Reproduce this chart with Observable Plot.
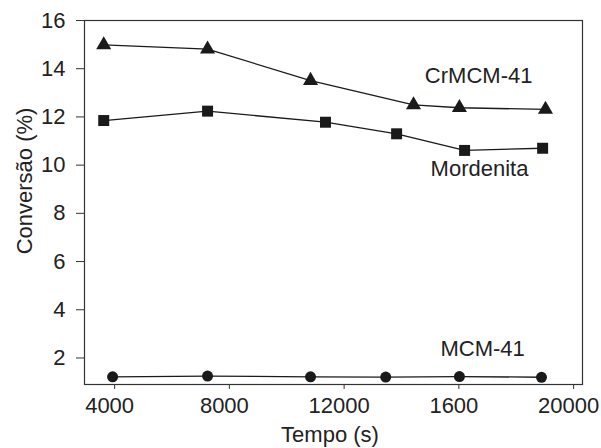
<!DOCTYPE html>
<html>
<head>
<meta charset="utf-8">
<script src="https://cdn.jsdelivr.net/npm/d3@7"></script>
<script src="https://cdn.jsdelivr.net/npm/@observablehq/plot@0.6"></script>
<style>
  html, body { margin: 0; padding: 0; background: #fff; }
  #chart svg { display: block; }
</style>
</head>
<body>
<div id="chart"></div>
<script>
// ---- data ----
const crmcmTime = [3620, 7240, 10830, 14420, 16020, 19020];
const crmcmConv = [14.99, 14.81, 13.51, 12.50, 12.38, 12.31];

const mordTime = [3620, 7240, 11350, 13830, 16200, 18920];
const mordConv = [11.85, 12.24, 11.78, 11.30, 10.61, 10.70];

const mcmTime = [3930, 7240, 10830, 13450, 16020, 18880];
const mcmConv = [1.22, 1.25, 1.22, 1.21, 1.23, 1.20];

const xTicks = [4000, 8000, 12000, 16000, 20000];
const xTickLabels = ["4000", "8000", "12000", "1600", "20000"];
const yTicks = [2, 4, 6, 8, 10, 12, 14, 16];

const seriesNames = ["CrMCM-41", "Mordenita", "MCM-41"];
const labelTime = [16690, 16720, 16830];
const labelConv = [13.72, 9.86, 2.39];

const xTitle = "Tempo (s)";
const yTitle = "Conversão (%)";

// ---- build ----
const toRows = (t, c) => t.map((x, i) => ({ x, y: c[i] }));
const crmcm = toRows(crmcmTime, crmcmConv);
const mord = toRows(mordTime, mordConv);
const mcm = toRows(mcmTime, mcmConv);
const labels = seriesNames.map((name, i) => ({ name, x: labelTime[i], y: labelConv[i] }));

const ink = "#1a1a1a";
const W = 601, H = 448;

const chart = Plot.plot({
  width: W,
  height: H,
  marginLeft: 84,
  marginRight: 19,
  marginTop: 20,
  marginBottom: 64,
  style: { fontFamily: "'Liberation Sans', Arial, sans-serif", fontSize: "22px", color: "#222", background: "#fff" },
  x: { domain: [2950, 20310] },
  y: { domain: [0.9, 16] },
  marks: [
    Plot.frame({ stroke: "#333", strokeWidth: 1.2 }),
    Plot.axisY({ ticks: yTicks, tickSize: 8, tickPadding: 11, fontSize: 22, label: null, stroke: "#333" }),
    Plot.axisX({ ticks: xTicks, tickFormat: () => "", tickSize: 5, label: null, stroke: "#333" }),
    Plot.axisX({ ticks: xTicks, tickFormat: (d) => xTickLabels[xTicks.indexOf(d)], tickSize: 0, tickPadding: 13, dx: -5, fontSize: 22, label: null }),
    Plot.line(crmcm, { x: "x", y: "y", stroke: ink, strokeWidth: 1.3 }),
    Plot.line(mord, { x: "x", y: "y", stroke: ink, strokeWidth: 1.3 }),
    Plot.line(mcm, { x: "x", y: "y", stroke: ink, strokeWidth: 1.3 }),
    Plot.dot(crmcm, { x: "x", y: "y", symbol: "triangle", r: 5.6, fill: ink, stroke: "none" }),
    Plot.dot(mord, { x: "x", y: "y", symbol: "square", r: 6.2, fill: ink, stroke: "none" }),
    Plot.dot(mcm, { x: "x", y: "y", symbol: "circle", r: 5.5, fill: ink, stroke: "none" }),
    Plot.text(labels, { x: "x", y: "y", text: "name", fontSize: 22, fill: "#222", textAnchor: "middle" })
  ]
});

const svg = d3.select(chart);
svg.append("text")
  .attr("x", 330).attr("y", 442)
  .attr("text-anchor", "middle")
  .attr("fill", "#222")
  .style("font-size", "22px")
  .text(xTitle);
svg.append("text")
  .attr("transform", "translate(32,181) rotate(-90)")
  .attr("text-anchor", "middle")
  .attr("fill", "#222")
  .style("font-size", "22px")
  .text(yTitle);

document.getElementById("chart").appendChild(chart);
</script>
</body>
</html>
